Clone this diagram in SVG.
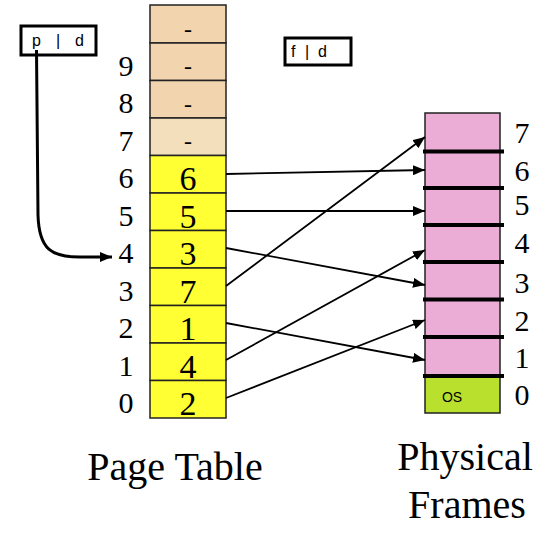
<svg xmlns="http://www.w3.org/2000/svg" width="554" height="537" viewBox="0 0 554 537">
<style>
.num{font-family:"Liberation Serif","Times New Roman",serif;fill:#000;text-anchor:middle}
.lbl{font-size:30px}
.cd{font-size:34px}
.dash{font-size:24px}
.title{font-family:"Liberation Serif","Times New Roman",serif;font-size:40px;fill:#000;text-anchor:middle}
.sans{font-family:"Liberation Sans",Arial,sans-serif;fill:#000}
.tan{fill:#F2D5AE;stroke:#222;stroke-width:1.5}
.tan2{fill:#F3DFBB;stroke:#222;stroke-width:1.5}
.yel{fill:#FFFF33;stroke:#222;stroke-width:1.5}
.conn{stroke:#000;stroke-width:1.8;fill:none;marker-end:url(#ah)}
.div{stroke:#000;stroke-width:4}
</style>
<defs>
<marker id="ah" viewBox="0 0 12 10" refX="12" refY="5" markerWidth="12" markerHeight="10" markerUnits="userSpaceOnUse" orient="auto">
<path d="M0,0 L12,5 L0,10 z" fill="#000"/>
</marker>
</defs>

<g id="addr-pd">
<rect x="21" y="26" width="75" height="29" fill="#fff" stroke="#000" stroke-width="3"/>
<text class="sans" x="32" y="46" font-size="16">p</text>
<text class="sans" x="56" y="46" font-size="16">|</text>
<text class="sans" x="75" y="46" font-size="16">d</text>
</g>

<g id="addr-fd">
<rect x="285" y="38" width="66" height="27" fill="#fff" stroke="#000" stroke-width="3"/>
<text class="sans" x="291" y="57" font-size="16">f</text>
<text class="sans" x="305" y="57" font-size="16">|</text>
<text class="sans" x="318" y="57" font-size="16">d</text>
</g>

<g id="page-table">
<rect class="tan" x="150" y="5" width="76" height="38"/>
<rect class="tan" x="150" y="43" width="76" height="37.5"/>
<rect class="tan" x="150" y="80.5" width="76" height="37.5"/>
<rect class="tan2" x="150" y="118" width="76" height="37.5"/>
<rect class="yel" x="150" y="155.5" width="76" height="37.5"/>
<rect class="yel" x="150" y="193" width="76" height="37.5"/>
<rect class="yel" x="150" y="230.5" width="76" height="37.5"/>
<rect class="yel" x="150" y="268" width="76" height="37.5"/>
<rect class="yel" x="150" y="305.5" width="76" height="37.5"/>
<rect class="yel" x="150" y="343" width="76" height="37.5"/>
<rect class="yel" x="150" y="380.5" width="76" height="37.5"/>
<text class="num dash" x="188" y="37">-</text>
<text class="num dash" x="188" y="74">-</text>
<text class="num dash" x="188" y="112">-</text>
<text class="num dash" x="188" y="149">-</text>
<text class="num cd" x="188" y="190">6</text>
<text class="num cd" x="188" y="228">5</text>
<text class="num cd" x="188" y="265">3</text>
<text class="num cd" x="188" y="303">7</text>
<text class="num cd" x="188" y="340">1</text>
<text class="num cd" x="188" y="378">4</text>
<text class="num cd" x="188" y="415">2</text>
<text class="num lbl" x="126" y="76">9</text>
<text class="num lbl" x="126" y="113">8</text>
<text class="num lbl" x="126" y="151">7</text>
<text class="num lbl" x="126" y="188">6</text>
<text class="num lbl" x="126" y="226">5</text>
<text class="num lbl" x="126" y="263">4</text>
<text class="num lbl" x="126" y="301">3</text>
<text class="num lbl" x="126" y="338">2</text>
<text class="num lbl" x="126" y="376">1</text>
<text class="num lbl" x="126" y="413">0</text>
<text class="title" x="175" y="480">Page Table</text>
</g>

<g id="physical-frames">
<rect x="425" y="113" width="75" height="263" fill="#EBADD6" stroke="#222" stroke-width="1.5"/>
<rect x="425" y="376" width="75" height="37" fill="#B8E02C" stroke="#222" stroke-width="1.5"/>
<line class="div" x1="423" y1="151.5" x2="504" y2="151.5"/>
<line class="div" x1="423" y1="188" x2="504" y2="188"/>
<line class="div" x1="423" y1="225" x2="504" y2="225"/>
<line class="div" x1="423" y1="262" x2="504" y2="262"/>
<line class="div" x1="423" y1="299.5" x2="504" y2="299.5"/>
<line class="div" x1="423" y1="337" x2="504" y2="337"/>
<line class="div" x1="423" y1="376" x2="504" y2="376"/>
<text class="sans" x="452" y="402" font-size="14" text-anchor="middle">OS</text>
<text class="num lbl" x="522" y="143">7</text>
<text class="num lbl" x="522" y="180.5">6</text>
<text class="num lbl" x="522" y="215">5</text>
<text class="num lbl" x="522" y="253">4</text>
<text class="num lbl" x="522" y="293">3</text>
<text class="num lbl" x="522" y="331">2</text>
<text class="num lbl" x="522" y="368">1</text>
<text class="num lbl" x="522" y="405">0</text>
<text class="title" x="465" y="470">Physical</text>
<text class="title" x="467" y="518">Frames</text>
</g>

<g id="connectors">
<path d="M36.5,50 L38,215 C39,250 52,257 80,257 L112,257" stroke="#000" stroke-width="3" fill="none" marker-end="url(#ah)"/>
<line class="conn" x1="226" y1="174" x2="425" y2="170"/>
<line class="conn" x1="226" y1="211" x2="425" y2="211"/>
<line class="conn" x1="226" y1="248" x2="425" y2="285"/>
<line class="conn" x1="226" y1="286" x2="425" y2="137"/>
<line class="conn" x1="226" y1="323" x2="425" y2="360"/>
<line class="conn" x1="226" y1="360" x2="425" y2="250"/>
<line class="conn" x1="226" y1="398" x2="425" y2="320"/>
</g>
</svg>
